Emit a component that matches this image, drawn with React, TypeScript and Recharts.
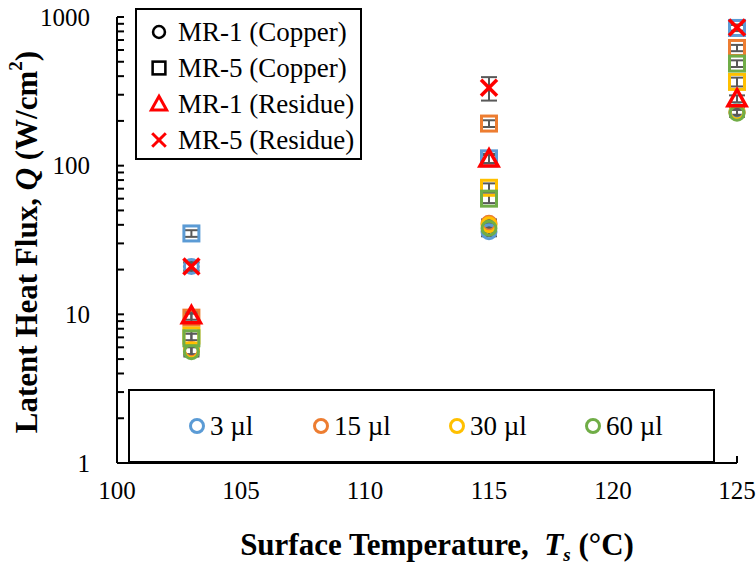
import React from "react";
import {
  ErrorBar,
  Label,
  Scatter,
  ScatterChart,
  XAxis,
  YAxis,
} from "recharts";

// surface temperatures (°C)
const temps = [103, 115, 125];

const volumes = ["3 µl", "15 µl", "30 µl", "60 µl"];
const volumeColors = ["#5B9BD5", "#ED7D31", "#FFC000", "#70AD47"];

// latent heat flux (W/cm²), one row per volume, one value per temperature
const mr1Copper = [
  [21, 36, 232],
  [5.8, 41, 228],
  [5.7, 40, 230],
  [5.6, 38, 225],
];
const mr1CopperErr = [
  [1.2, 2.5, 12],
  [0.4, 2.5, 12],
  [0.4, 2.5, 12],
  [0.4, 2.5, 12],
];
const mr5Copper = [
  [35, 112, 844],
  [9.5, 192, 619],
  [7.2, 71, 366],
  [6.9, 60, 486],
];
const mr5CopperErr = [
  [1.8, 8, 40],
  [0.6, 10, 30],
  [0.5, 5, 25],
  [0.5, 4, 25],
];
const mr1Residue = [9.8, 111, 282];
const mr1ResidueErr = [0.6, 7, 15];
const mr5Residue = [21, 334, 850];
const mr5ResidueErr = [1.5, 60, 40];

const xTicks = [100, 105, 110, 115, 120, 125];
const yMajorTicks = [1, 10, 100, 1000];
const yMinorSteps = [2, 3, 4, 5, 6, 7, 8, 9];
const yTicks = yMajorTicks.flatMap((d) =>
  d < 1000 ? [d, ...yMinorSteps.map((m) => m * d)] : [d]
);

const legendItems = [
  { label: "MR-1 (Copper)", shape: "circle", color: "#000" },
  { label: "MR-5 (Copper)", shape: "square", color: "#000" },
  { label: "MR-1 (Residue)", shape: "triangle", color: "#FF0000" },
  { label: "MR-5 (Residue)", shape: "cross", color: "#FF0000" },
];

const SERIF = '"Liberation Serif", "Times New Roman", serif';
const RED = "#FF0000";

const toPoints = (vals: number[], errs: number[]) =>
  temps.map((t, i) => ({ x: t, y: vals[i], err: errs[i] }));

function Marker({ shape, cx, cy, color, scale = 1 }: any) {
  const s = scale;
  if (shape === "circle")
    return <circle cx={cx} cy={cy} r={7 * s} fill="none" stroke={color} strokeWidth={3 * s} />;
  if (shape === "square")
    return (
      <rect x={cx - 7.5 * s} y={cy - 7.5 * s} width={15 * s} height={15 * s}
        fill="none" stroke={color} strokeWidth={3 * s} />
    );
  if (shape === "triangle")
    return (
      <path
        d={`M${cx},${cy - 9 * s} L${cx + 9 * s},${cy + 7 * s} L${cx - 9 * s},${cy + 7 * s} Z`}
        fill="none" stroke={color} strokeWidth={3.5 * s} strokeLinejoin="miter" />
    );
  const d = 8 * s;
  return (
    <g stroke={color} strokeWidth={3.5 * s}>
      <line x1={cx - d} y1={cy - d} x2={cx + d} y2={cy + d} />
      <line x1={cx - d} y1={cy + d} x2={cx + d} y2={cy - d} />
    </g>
  );
}

const shapeFn = (shape: string, color: string) => (p: any) =>
  <Marker shape={shape} cx={p.cx} cy={p.cy} color={color} />;

function YTick({ x, y, payload }: any) {
  const major = yMajorTicks.includes(payload.value);
  return (
    <g>
      <line x1={x} x2={x + 7} y1={y} y2={y} stroke="#000" strokeWidth={2} />
      {major && (
        <text x={x - 27} y={y} textAnchor="end" dominantBaseline="central"
          fontFamily={SERIF} fontSize={25} fill="#000">
          {payload.value}
        </text>
      )}
    </g>
  );
}

function XTick({ x, y, payload }: any) {
  return (
    <g>
      <line x1={x} x2={x} y1={y} y2={y - 7} stroke="#000" strokeWidth={2} />
      <text x={x} y={y + 27} textAnchor="middle" dominantBaseline="central"
        fontFamily={SERIF} fontSize={25} fill="#000">
        {payload.value}
      </text>
    </g>
  );
}

function YTitle({ viewBox }: any) {
  const cx = viewBox.x + 26;
  const cy = viewBox.y + viewBox.height / 2 + 2;
  return (
    <text x={cx} y={cy} transform={`rotate(-90 ${cx} ${cy})`} textAnchor="middle"
      dominantBaseline="central" fontFamily={SERIF} fontSize={31} fontWeight="bold" fill="#000">
      Latent Heat Flux, <tspan fontStyle="italic">Q</tspan> (W/cm
      <tspan baselineShift="super" fontSize={19}>2</tspan>)
    </text>
  );
}

function XTitle({ viewBox }: any) {
  const cx = viewBox.x + viewBox.width / 2 + 10;
  return (
    <text x={cx} y={viewBox.y + 81} textAnchor="middle" dominantBaseline="central"
      fontFamily={SERIF} fontSize={31} fontWeight="bold" fill="#000" xmlSpace="preserve">
      Surface Temperature,{"  "}<tspan fontStyle="italic">T</tspan>
      <tspan baselineShift="sub" fontSize={19} fontStyle="italic">s</tspan> (°C)
    </text>
  );
}

export default function App() {
  return (
    <div style={{ position: "absolute", left: 0, top: 0, width: 756, height: 566, background: "#fff" }}>
      <ScatterChart width={756} height={566} margin={{ top: 17, right: 19, bottom: 0, left: 0 }}>
        <XAxis
          type="number"
          dataKey="x"
          domain={[100, 125]}
          ticks={xTicks}
          interval={0}
          tickSize={0}
          tickMargin={0}
          tickLine={false}
          tick={<XTick />}
          height={103}
          axisLine={{ stroke: "#000", strokeWidth: 2 }}
        >
          <Label content={<XTitle />} />
        </XAxis>
        <YAxis
          type="number"
          dataKey="y"
          scale="log"
          domain={[1, 1000]}
          allowDataOverflow
          ticks={yTicks}
          interval={0}
          tickSize={0}
          tickMargin={0}
          tickLine={false}
          tick={<YTick />}
          width={117}
          axisLine={{ stroke: "#000", strokeWidth: 2 }}
        >
          <Label content={<YTitle />} />
        </YAxis>
        {mr1Copper.map((vals, i) => (
          <Scatter key={`c${i}`} name={`MR-1 Copper ${volumes[i]}`}
            data={toPoints(vals, mr1CopperErr[i])}
            shape={shapeFn("circle", volumeColors[i])} isAnimationActive={false}>
            <ErrorBar dataKey="err" direction="y" width={8} stroke="#595959" strokeWidth={2} />
          </Scatter>
        ))}
        {mr5Copper.map((vals, i) => (
          <Scatter key={`s${i}`} name={`MR-5 Copper ${volumes[i]}`}
            data={toPoints(vals, mr5CopperErr[i])}
            shape={shapeFn("square", volumeColors[i])} isAnimationActive={false}>
            <ErrorBar dataKey="err" direction="y" width={8} stroke="#595959" strokeWidth={2} />
          </Scatter>
        ))}
        <Scatter name="MR-1 (Residue)" data={toPoints(mr1Residue, mr1ResidueErr)}
          shape={shapeFn("triangle", RED)} isAnimationActive={false}>
          <ErrorBar dataKey="err" direction="y" width={8} stroke="#595959" strokeWidth={2} />
        </Scatter>
        <Scatter name="MR-5 (Residue)" data={toPoints(mr5Residue, mr5ResidueErr)}
          shape={shapeFn("cross", RED)} isAnimationActive={false}>
          <ErrorBar dataKey="err" direction="y" width={8} stroke="#595959" strokeWidth={2} />
        </Scatter>
      </ScatterChart>

      {/* series legend */}
      <div style={{
        position: "absolute", left: 135, top: 8, width: 227, height: 152, boxSizing: "border-box",
        border: "2px solid #000", background: "#fff", fontFamily: SERIF, fontSize: 27,
      }}>
        {legendItems.map((it, i) => (
          <div key={it.label} style={{ position: "absolute", left: 11, top: 4 + i * 36, height: 36, display: "flex", alignItems: "center", whiteSpace: "nowrap" }}>
            <svg width={22} height={22} style={{ marginRight: 8 }}>
              <Marker shape={it.shape} cx={11} cy={11} color={it.color} scale={0.85} />
            </svg>
            <span>{it.label}</span>
          </div>
        ))}
      </div>

      {/* volume legend */}
      <div style={{
        position: "absolute", left: 128, top: 389, width: 587, height: 74, boxSizing: "border-box",
        border: "2px solid #000", background: "#fff", fontFamily: SERIF, fontSize: 27,
      }}>
        {volumes.map((v, i) => (
          <div key={v} style={{ position: "absolute", left: [57, 181, 317, 453][i], top: 17, height: 36, display: "flex", alignItems: "center", whiteSpace: "nowrap" }}>
            <svg width={20} height={20} style={{ marginRight: 3 }}>
              <circle cx={10} cy={10} r={6.5} fill="none" stroke={volumeColors[i]} strokeWidth={3} />
            </svg>
            <span>{v}</span>
          </div>
        ))}
      </div>
    </div>
  );
}
